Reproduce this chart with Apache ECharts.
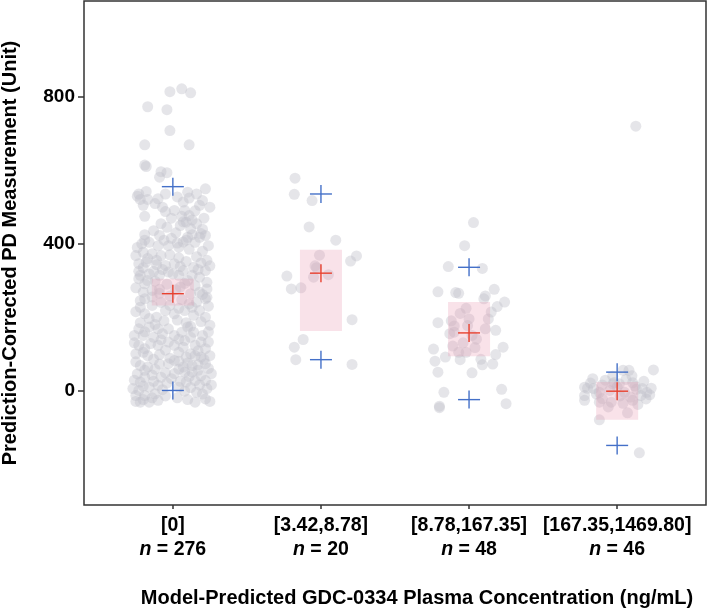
<!DOCTYPE html>
<html><head><meta charset="utf-8">
<script src="https://cdn.jsdelivr.net/npm/echarts@6/dist/echarts.min.js"></script>
<style>html,body{margin:0;padding:0;background:#fff}#c{width:709px;height:610px}</style>
</head><body><div id="c"></div>
<script>
const categories = ['[0]', '[3.42,8.78]', '[8.78,167.35]', '[167.35,1469.80]'];
const counts = [276, 20, 48, 46];
const medians = [264, 320, 157, -2];
const ciLow = [232, 162, 93, -80];
const ciHigh = [305, 384, 241, 23];
const p05 = [0, 84, -25, -150];
const p95 = [556, 536, 336, 50];
const yTicks = [0, 400, 800];
const xTicks = [1, 2, 3, 4];

// [jitter offset from category centre, measurement]
const group1 = [
[-0.02,815],[0.06,823],[0.12,812],[-0.17,774],[-0.04,766],[-0.02,709],[-0.19,670],[0.11,670],[-0.19,615],[-0.18,611],
[-0.08,597],[-0.04,594],[-0.09,582],[-0.23,536],[-0.18,543],[-0.22,521],[-0.17,521],[-0.10,523],[-0.05,536],[-0.07,500],
[0.10,541],[0.16,536],[0.22,550],[0.20,518],[0.25,500],[0.07,514],[-0.19,475],[-0.05,488],[0.01,491],[0.08,491],
[0.11,477],[0.09,459],[0.05,450],[0.12,441],[0.18,418],[0.22,423],[0.15,404],[0.10,418],[-0.19,425],[-0.13,436],
[-0.09,423],[-0.21,400],[-0.16,404],[-0.10,395],[-0.03,395],[0.04,391],[-0.25,368],[-0.20,377],[-0.14,373],[-0.08,368],
[-0.23,346],[-0.18,350],[-0.11,343],[-0.05,341],[0.01,346],[0.07,327],[0.14,336],[0.19,348],[0.23,355],[0.22,327],
[-0.22,314],[-0.16,318],[-0.09,314],[-0.03,323],[0.04,314],[0.13,314],[0.18,309],[0.23,295],[-0.23,305],[-0.19,291],
[-0.20,268],[-0.14,273],[0.15,286],[0.18,268],[0.23,277],[0.12,264],[-0.19,250],[0.23,254],[-0.22,227],[-0.19,209],
[-0.14,232],[-0.11,200],[-0.05,218],[0.01,209],[0.08,218],[0.13,227],[0.18,218],[0.22,250],[0.22,200],[0.16,241],
[-0.22,245],[-0.23,168],[-0.26,150],[-0.20,150],[-0.16,173],[-0.10,168],[-0.07,155],[-0.03,168],[0.01,150],[0.06,159],
[0.10,173],[0.14,159],[0.08,136],[-0.03,132],[0.01,123],[-0.10,123],[-0.23,123],[-0.19,114],[0.19,132],[0.24,132],
[0.22,114],[0.15,123],[-0.17,95],[-0.20,104],[0.04,104],[0.09,91],[0.15,95],[0.19,91],[-0.22,68],[-0.17,64],
[-0.03,73],[0.01,82],[0.07,64],[0.13,68],[0.22,73],[0.26,46],[0.17,55],[0.08,50],[0.01,46],[-0.08,36],
[-0.01,32],[-0.22,23],[-0.19,36],[-0.16,9],[-0.23,0],[-0.10,14],[0.04,9],[0.09,23],[0.15,27],[0.22,27],
[0.23,5],[0.16,-5],[-0.25,-14],[-0.19,-14],[-0.12,-9],[-0.22,-32],[-0.16,-32],[-0.10,-27],[0.15,-32],[0.22,-23],
[-0.24,530],[0.03,528],[-0.12,510],[0.18,505],[-0.01,470],[0.13,465],[0.06,475],[0.02,430],[-0.04,445],[0.16,455],
[0.20,440],[-0.06,410],[0.07,405],[0.24,395],[-0.24,390],[0.11,385],[0.20,380],[-0.02,370],[0.04,362],[0.16,365],
[-0.17,360],[-0.11,355],[0.09,352],[0.25,340],[-0.20,335],[-0.07,330],[0.00,318],[0.10,300],[-0.12,298],[-0.04,290],
[0.05,282],[-0.25,280],[-0.09,276],[0.20,262],[-0.02,258],[0.06,248],[-0.14,255],[-0.08,240],[0.11,236],[0.24,230],
[-0.25,215],[-0.02,232],[0.04,224],[0.14,205],[-0.16,196],[-0.06,190],[0.03,192],[0.09,185],[0.19,188],[0.25,178],
[-0.22,185],[-0.12,180],[0.12,175],[-0.19,160],[0.20,150],[0.24,160],[-0.13,145],[0.04,140],[0.12,145],[-0.08,138],
[-0.26,130],[-0.15,128],[0.07,118],[-0.05,110],[0.17,108],[-0.25,100],[-0.09,98],[0.12,100],[0.25,95],[-0.13,85],
[-0.02,88],[0.04,80],[0.21,85],[-0.25,78],[-0.09,72],[0.10,75],[0.17,70],[-0.19,55],[-0.12,58],[0.04,58],
[0.13,50],[0.24,60],[-0.24,45],[-0.14,42],[-0.05,48],[0.11,38],[0.19,40],[-0.26,28],[-0.13,25],[-0.04,20],
[0.05,25],[0.18,15],[0.26,15],[-0.20,12],[-0.07,2],[0.08,-2],[0.12,8],[0.20,-10],[-0.27,5],[-0.14,-20],
[-0.05,-15],[0.03,-20],[0.10,-25],[-0.25,-30],[-0.20,-25],[0.25,-30],[-0.09,265],[0.02,275],[0.08,292],[-0.17,300],
[0.17,330],[-0.23,325],[0.05,338],[-0.13,325],[0.09,410],[-0.19,410],[0.03,402],[0.13,425],[0.19,428],[-0.08,455],
[0.21,470],[0.15,490],[-0.20,505],[0.11,525],[0.07,460],[-0.01,415]
];
const group2 = [
[-0.175,579],[-0.18,535],[-0.06,518],[-0.08,446],[0.10,410],[-0.01,369],[0.24,367],[0.20,353],[-0.03,335],[-0.05,309],
[0.05,316],[-0.23,312],[-0.20,277],[-0.135,280],[0.21,193],[-0.12,139],[-0.18,118],[-0.17,84],[0.21,71],[-0.04,340]
];
const group3 = [
[0.03,458],[-0.03,395],[-0.14,338],[0.09,333],[-0.21,269],[-0.09,267],[-0.07,265],[0.17,276],[0.11,258],[0.24,241],
[0.19,229],[-0.02,224],[0.15,214],[0.00,195],[0.13,195],[-0.21,185],[-0.10,176],[0.11,168],[0.18,164],[-0.13,155],
[-0.10,159],[0.02,150],[-0.01,177],[-0.24,113],[-0.11,121],[0.04,117],[0.23,118],[-0.07,104],[-0.02,104],[0.18,98],
[-0.23,80],[-0.16,91],[-0.06,84],[0.08,85],[0.09,70],[0.16,72],[-0.21,50],[0.02,48],[-0.17,-5],[0.22,3],
[-0.20,-43],[-0.20,-47],[0.25,-36],[-0.06,210],[0.05,140],[-0.12,190],[0.10,250],[-0.04,130]
];
const group4 = [
[0.04,55],[0.08,55],[0.245,56],[-0.165,32],[-0.03,39],[-0.20,6],[-0.22,9],[-0.10,15],[-0.03,18],[0.105,21],
[0.13,3],[0.17,5],[0.23,6],[0.22,-12],[0.16,-14],[-0.22,-14],[-0.22,-27],[-0.12,-32],[-0.04,-32],[0.105,-27],
[0.195,-23],[-0.12,-5],[0.05,-5],[0.015,18],[0.07,-61],[-0.12,-80],[0.15,-170],[0.126,721],[-0.18,20],[-0.08,28],
[0.00,10],[0.06,30],[0.12,12],[-0.05,0],[0.02,-15],[0.09,-18],[-0.14,-10],[-0.02,22],[0.18,25],[-0.10,-22],
[0.04,-35],[0.14,-38],[-0.06,-45],[0.10,40],[-0.16,5],[0.20,-5]
];
const groups = [group1, group2, group3, group4];

const FONT = '"Liberation Sans", Arial, Helvetica, sans-serif';
const chart = echarts.init(document.getElementById('c'), null, {renderer: 'canvas'});

const pointSeries = groups.map((g, i) => ({
  type: 'scatter',
  name: categories[i],
  data: g.map(p => [xTicks[i] + p[0], p[1]]),
  symbol: 'circle',
  symbolSize: 11,
  itemStyle: {color: 'rgb(192,192,202)', opacity: 0.42},
  silent: true,
  z: 2
}));

function crossRenderer(color) {
  return function (params, api) {
    const c = api.coord([api.value(0), api.value(1)]);
    const st = {stroke: color, lineWidth: 1.4};
    return {
      type: 'group',
      children: [
        {type: 'line', shape: {x1: c[0] - 11, y1: c[1], x2: c[0] + 11, y2: c[1]}, style: st},
        {type: 'line', shape: {x1: c[0], y1: c[1] - 9, x2: c[0], y2: c[1] + 9}, style: st}
      ]
    };
  };
}

const rectSeries = {
  type: 'custom',
  data: xTicks.map((x, i) => [x, ciLow[i], ciHigh[i]]),
  encode: {x: 0, y: [1, 2]},
  renderItem: function (params, api) {
    const x = api.value(0);
    const p1 = api.coord([x - 0.142, api.value(2)]);
    const p2 = api.coord([x + 0.142, api.value(1)]);
    return {type: 'rect', shape: {x: p1[0], y: p1[1], width: p2[0] - p1[0], height: p2[1] - p1[1]},
      style: {fill: 'rgba(235,150,175,0.28)'}};
  },
  silent: true,
  z: 3
};

const medianSeries = {
  type: 'custom',
  data: xTicks.map((x, i) => [x, medians[i]]),
  encode: {x: 0, y: 1},
  renderItem: crossRenderer('#e8412f'),
  silent: true,
  z: 5
};
const pctSeries = {
  type: 'custom',
  data: xTicks.map((x, i) => [x, p05[i]]).concat(xTicks.map((x, i) => [x, p95[i]])),
  encode: {x: 0, y: 1},
  renderItem: crossRenderer('#4470c8'),
  silent: true,
  z: 5
};

chart.setOption({
  animation: false,
  backgroundColor: '#ffffff',
  textStyle: {fontFamily: FONT},
  grid: {left: 84, right: 3, top: 1, bottom: 105, outerBoundsMode: 'none', containLabel: false,
    show: true, borderColor: '#333', borderWidth: 1.5, backgroundColor: 'transparent'},
  xAxis: {
    type: 'value', min: 0.4, max: 4.6,
    name: 'Model-Predicted GDC-0334 Plasma Concentration (ng/mL)',
    nameLocation: 'middle', nameGap: 83,
    nameTextStyle: {fontFamily: FONT, fontWeight: 'bold', fontSize: 20, color: '#000', padding: [0, 0, 0, 44]},
    axisLine: {show: false, onZero: false},
    splitLine: {show: false},
    axisTick: {show: true, customValues: xTicks, length: 4, lineStyle: {color: '#333', width: 1.5}},
    axisLabel: {
      customValues: xTicks, margin: 9, color: '#000',
      formatter: function (v) {
        const i = Math.round(v) - 1;
        return '{a|' + categories[i] + '}\n{b|n}{a| = ' + counts[i] + '}';
      },
      rich: {
        a: {fontFamily: FONT, fontWeight: 'bold', fontSize: 19.5, lineHeight: 24, color: '#000'},
        b: {fontFamily: FONT, fontWeight: 'bold', fontStyle: 'italic', fontSize: 19.5, lineHeight: 24, color: '#000'}
      }
    }
  },
  yAxis: {
    type: 'value', min: -312.5, max: 1062.5,
    name: 'Prediction-Corrected PD Measurement (Unit)',
    nameLocation: 'middle', nameGap: 64, nameRotate: 90,
    nameTextStyle: {fontFamily: FONT, fontWeight: 'bold', fontSize: 20, color: '#000'},
    axisLine: {show: false, onZero: false},
    splitLine: {show: false},
    axisTick: {show: true, customValues: yTicks, length: 6, lineStyle: {color: '#333', width: 1.5}},
    axisLabel: {customValues: yTicks, margin: 9, fontFamily: FONT, fontWeight: 'bold', fontSize: 19, color: '#000'}
  },
  series: pointSeries.concat([rectSeries, medianSeries, pctSeries])
});
</script></body></html>
